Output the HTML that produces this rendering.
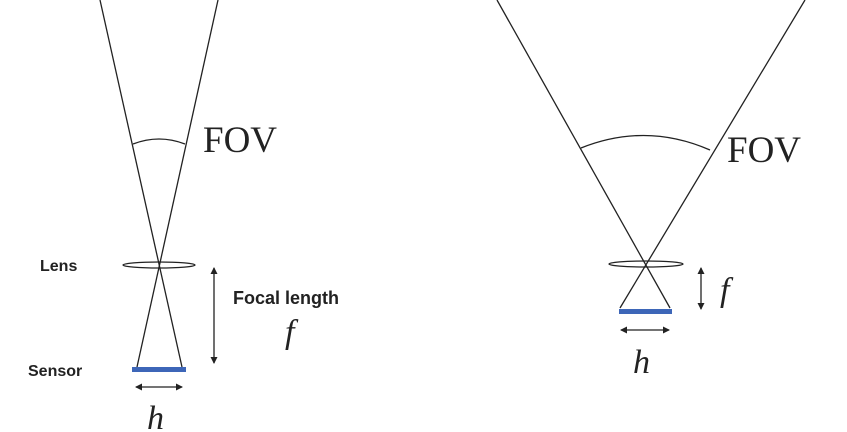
<!DOCTYPE html>
<html><head><meta charset="utf-8"><style>
html,body{margin:0;padding:0;background:#fff;}
svg{display:block}
</style></head><body>
<svg width="847" height="432" viewBox="0 0 847 432" xmlns="http://www.w3.org/2000/svg">
<defs>
<marker id="a" markerWidth="8" markerHeight="8" refX="6" refY="4" orient="auto-start-reverse" markerUnits="userSpaceOnUse"><path d="M0,0.5 L7,4 L0,7.5 Z" fill="#222"/></marker>
</defs>
<g stroke="#222" stroke-width="1.3" fill="none">
<line x1="100" y1="0" x2="182" y2="367"/>
<line x1="218" y1="0" x2="137" y2="367"/>
<path d="M133,144 Q159,134 185,144"/>
<ellipse cx="159" cy="265" rx="36" ry="3"/>
<line x1="214" y1="268" x2="214" y2="363" marker-start="url(#a)" marker-end="url(#a)"/>
<line x1="136" y1="387" x2="182" y2="387" marker-start="url(#a)" marker-end="url(#a)"/>
<line x1="497" y1="0" x2="670" y2="308"/>
<line x1="805" y1="0" x2="620" y2="308"/>
<path d="M581,148 Q646,122 710,150"/>
<ellipse cx="646" cy="264" rx="37" ry="3"/>
<line x1="701" y1="268" x2="701" y2="309" marker-start="url(#a)" marker-end="url(#a)"/>
<line x1="621" y1="330" x2="669" y2="330" marker-start="url(#a)" marker-end="url(#a)"/>
</g>
<rect x="132" y="367" width="54" height="5" fill="#3d66b8"/>
<rect x="619" y="309" width="53" height="5" fill="#3d66b8"/>
<g font-family="Liberation Serif, serif" fill="#222">
<text x="203" y="152" font-size="37">FOV</text>
<text x="727" y="162" font-size="37">FOV</text>
<text x="285" y="343" font-size="34" font-style="italic">f</text>
<text x="720" y="301" font-size="34" font-style="italic">f</text>
<text x="147" y="429" font-size="34" font-style="italic">h</text>
<text x="633" y="373" font-size="34" font-style="italic">h</text>
</g>
<g font-family="Liberation Sans, sans-serif" font-weight="bold" fill="#222">
<text x="40" y="271" font-size="16">Lens</text>
<text x="28" y="376" font-size="16">Sensor</text>
<text x="233" y="304" font-size="18">Focal length</text>
</g>
</svg>
</body></html>
